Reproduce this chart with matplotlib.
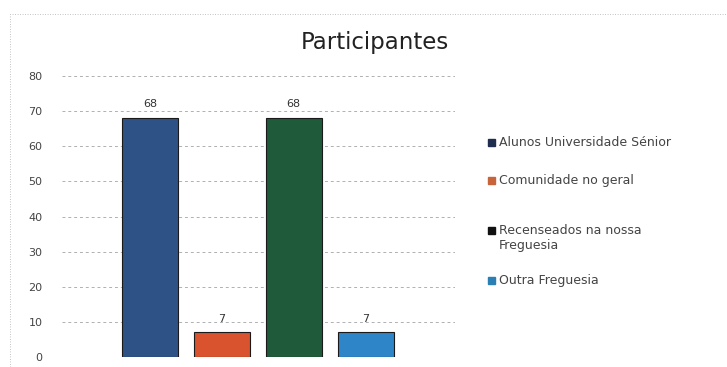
import matplotlib
matplotlib.use("Agg")
import matplotlib.pyplot as plt
from matplotlib.patches import Rectangle

categories = ["Alunos Universidade Sénior", "Comunidade no geral",
              "Recenseados na nossa\nFreguesia", "Outra Freguesia"]
values = [68, 7, 68, 7]
bar_colors = ["#2f5286", "#d9532e", "#1f5a3a", "#2e86c8"]
legend_colors = ["#1f2d4f", "#c8643a", "#111111", "#2a7fb5"]
yticks = [0, 10, 20, 30, 40, 50, 60, 70, 80]

fig = plt.figure(figsize=(7.27, 3.67), dpi=100)
fig.patch.set_facecolor("white")
# dotted border
fig.add_artist(Rectangle((10/727, -0.05), 1.1, 1 - 14/367 + 0.05, transform=fig.transFigure,
                         fill=False, ls=(0, (1, 2)), lw=0.6, ec="#b0b0b0"))

ax = fig.add_axes([62/727, 1 - 357/367, (455-62)/727, (357-76)/367])
x = list(range(len(values)))
ax.bar(x, values, width=0.78, color=bar_colors, edgecolor="#1a1a1a", linewidth=0.8, zorder=3)
for xi, v in zip(x, values):
    ax.text(xi, v + 2.5, str(v), ha="center", va="bottom", fontsize=8, color="#333333")

ax.set_ylim(0, 80)
ax.set_xlim(-1.22, 4.24)
ax.set_yticks(yticks)
ax.set_yticklabels([str(t) for t in yticks], fontsize=8, color="#444444")
ax.set_xticks([])
ax.tick_params(axis="y", length=0, pad=14)
for s in ax.spines.values():
    s.set_visible(False)
ax.yaxis.grid(True, ls=(0, (3, 3)), color="#b0b0b0", lw=0.7, zorder=0)
ax.set_axisbelow(True)

fig.text(375/727, 1 - 42/367, "Participantes", ha="center", va="center", fontsize=16.5, color="#222222")

# legend entries (top y of each entry in pixels)
entry_y = [142, 180, 230, 280]
for lab, col, yy in zip(categories, legend_colors, entry_y):
    fig.add_artist(Rectangle((488/727, 1 - (yy + 4)/367), 7/727, 7/367,
                             transform=fig.transFigure, color=col))
    fig.text(499/727, 1 - (yy - 6)/367, lab, ha="left", va="top", fontsize=9,
             color="#444444", linespacing=1.25)

fig.savefig("out.png", dpi=100, facecolor="white")
